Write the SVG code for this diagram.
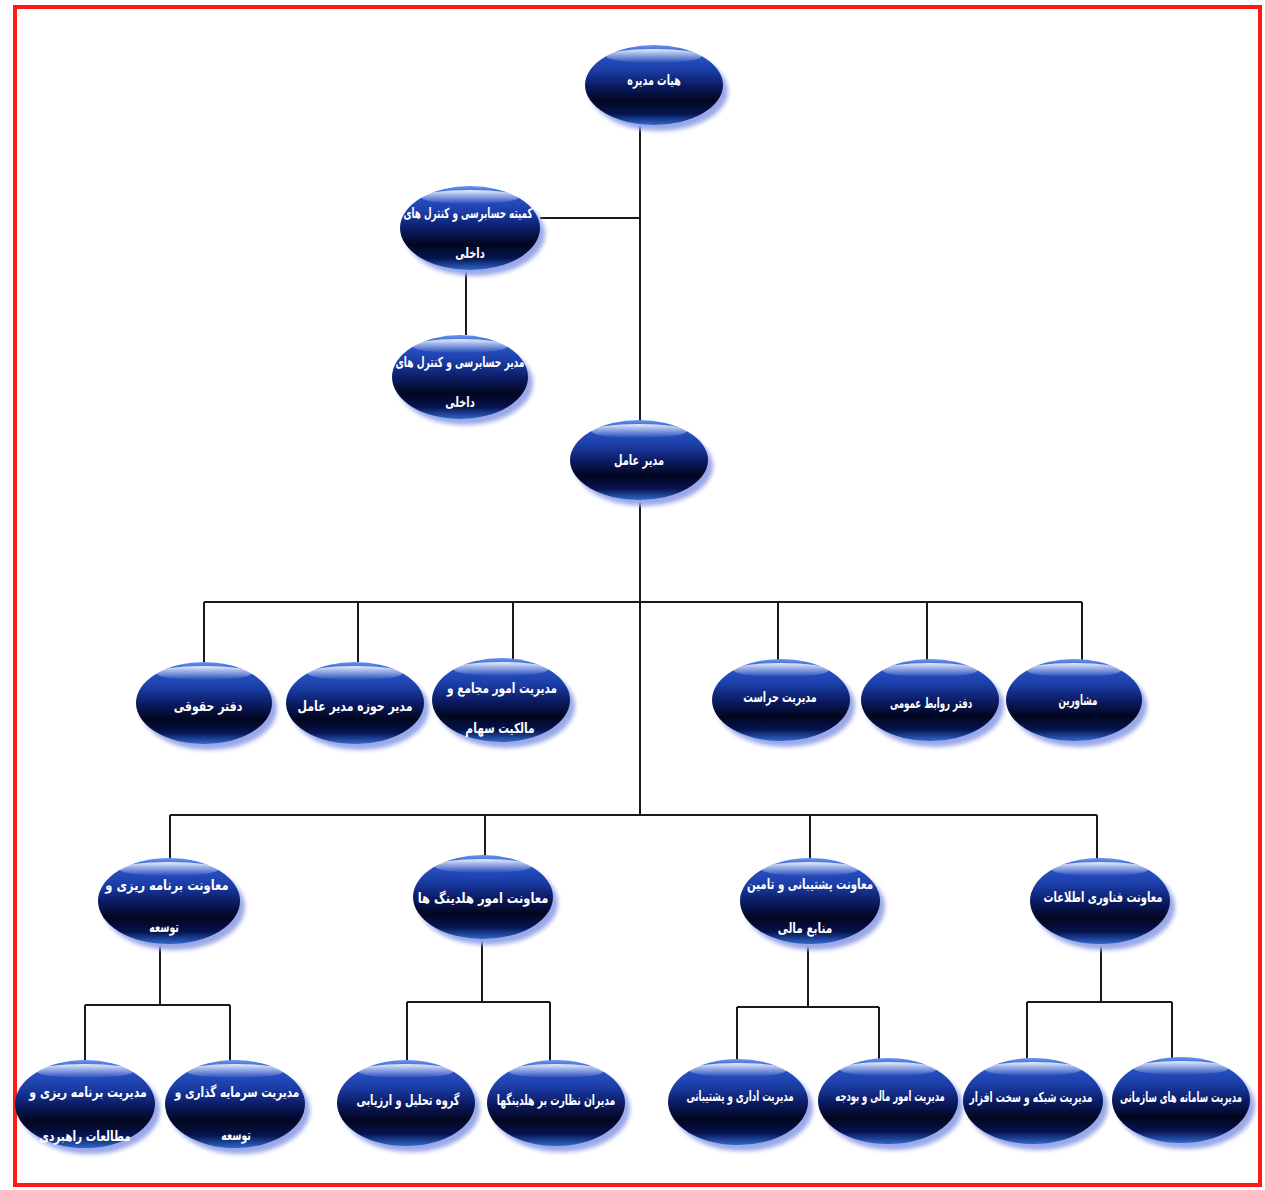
<svg xmlns="http://www.w3.org/2000/svg" width="1265" height="1190" viewBox="0 0 1265 1190">
<style>
.frame{fill:none;stroke:#ff1a1a;stroke-width:4}
.ln{fill:none;stroke:#1a1a1a;stroke-width:2}
.sh{fill:#9aa8e8;filter:url(#blur)}
.bd{fill:url(#body)}
.hl{fill:url(#hi)}
.t{font-family:"DejaVu Sans",sans-serif;font-size:14px;font-weight:bold;fill:#ffffff;text-anchor:middle;dominant-baseline:central}
</style>
<defs>
<linearGradient id="body" x1="0" y1="0" x2="0" y2="1">
<stop offset="0" stop-color="#6b95f0"/>
<stop offset="0.1" stop-color="#2b56cc"/>
<stop offset="0.32" stop-color="#1a3ca4"/>
<stop offset="0.52" stop-color="#0a1a60"/>
<stop offset="0.7" stop-color="#02061e"/>
<stop offset="0.86" stop-color="#061450"/>
<stop offset="1" stop-color="#2e68cc"/>
</linearGradient>
<linearGradient id="hi" x1="0" y1="0" x2="0" y2="1">
<stop offset="0" stop-color="#ffffff" stop-opacity="0.85"/>
<stop offset="1" stop-color="#ffffff" stop-opacity="0"/>
</linearGradient>
<filter id="blur" x="-20%" y="-20%" width="140%" height="140%"><feGaussianBlur stdDeviation="2"/></filter>
</defs>
<rect class="frame" x="15" y="7" width="1245" height="1178"/>
<g id="connectors">
<path class="ln" d="M640 125V815"/>
<path class="ln" d="M540 218H640"/>
<path class="ln" d="M466 270V335"/>
<path class="ln" d="M204 602H1082M204 602V662M358 602V662M513 602V660M778 602V662M927 602V662M1082 602V662"/>
<path class="ln" d="M170 815H1097M170 815V860M485 815V858M810 815V860M1097 815V862"/>
<path class="ln" d="M160 945V1005M85 1005H230M85 1005V1062M230 1005V1062"/>
<path class="ln" d="M482 940V1002M407 1002H550M407 1002V1062M550 1002V1062"/>
<path class="ln" d="M808 945V1007M737 1007H879M737 1007V1060M879 1007V1060"/>
<path class="ln" d="M1101 945V1002M1027 1002H1172M1027 1002V1058M1172 1002V1058"/>
</g>
<g id="n_board"><ellipse class="sh" cx="659" cy="91" rx="69" ry="40"/><ellipse class="bd" cx="654" cy="85" rx="69" ry="40"/><ellipse class="hl" cx="654" cy="56" rx="48" ry="7"/><text class="t" transform="translate(654,80) scale(0.68,1)">هیات مدیره</text></g>
<g id="n_committee"><ellipse class="sh" cx="475" cy="234" rx="70" ry="42"/><ellipse class="bd" cx="470" cy="228" rx="70" ry="42"/><ellipse class="hl" cx="470" cy="197" rx="49" ry="7"/><text class="t" transform="translate(468,213) scale(0.63,1)">کمیته حسابرسی و کنترل های</text><text class="t" transform="translate(470,253) scale(0.7,1)">داخلی</text></g>
<g id="n_auditmgr"><ellipse class="sh" cx="465" cy="383" rx="68" ry="42"/><ellipse class="bd" cx="460" cy="377" rx="68" ry="42"/><ellipse class="hl" cx="460" cy="346" rx="48" ry="7"/><text class="t" transform="translate(460,362) scale(0.65,1)">مدیر حسابرسی و کنترل های</text><text class="t" transform="translate(460,402) scale(0.7,1)">داخلی</text></g>
<g id="n_ceo"><ellipse class="sh" cx="644" cy="466" rx="69" ry="40"/><ellipse class="bd" cx="639" cy="460" rx="69" ry="40"/><ellipse class="hl" cx="639" cy="431" rx="48" ry="7"/><text class="t" transform="translate(639,460) scale(0.7,1)">مدیر عامل</text></g>
<g id="n_legal"><ellipse class="sh" cx="209" cy="709" rx="68" ry="41"/><ellipse class="bd" cx="204" cy="703" rx="68" ry="41"/><ellipse class="hl" cx="204" cy="673" rx="48" ry="7"/><text class="t" transform="translate(208,706) scale(0.78,1)">دفتر حقوقی</text></g>
<g id="n_ceooffice"><ellipse class="sh" cx="360" cy="709" rx="69" ry="41"/><ellipse class="bd" cx="355" cy="703" rx="69" ry="41"/><ellipse class="hl" cx="355" cy="673" rx="48" ry="7"/><text class="t" transform="translate(355,706) scale(0.78,1)">مدیر حوزه مدیر عامل</text></g>
<g id="n_assembly"><ellipse class="sh" cx="506" cy="706" rx="69" ry="42"/><ellipse class="bd" cx="501" cy="700" rx="69" ry="42"/><ellipse class="hl" cx="501" cy="669" rx="48" ry="7"/><text class="t" transform="translate(502,688) scale(0.75,1)">مدیریت امور مجامع و</text><text class="t" transform="translate(500,728) scale(0.76,1)">مالکیت سهام</text></g>
<g id="n_security"><ellipse class="sh" cx="786" cy="706" rx="69" ry="41"/><ellipse class="bd" cx="781" cy="700" rx="69" ry="41"/><ellipse class="hl" cx="781" cy="670" rx="48" ry="7"/><text class="t" transform="translate(780,697) scale(0.68,1)">مدیریت حراست</text></g>
<g id="n_pr"><ellipse class="sh" cx="935" cy="706" rx="69" ry="41"/><ellipse class="bd" cx="930" cy="700" rx="69" ry="41"/><ellipse class="hl" cx="930" cy="670" rx="48" ry="7"/><text class="t" transform="translate(931,703) scale(0.62,1)">دفتر روابط عمومی</text></g>
<g id="n_advisors"><ellipse class="sh" cx="1079" cy="706" rx="68" ry="41"/><ellipse class="bd" cx="1074" cy="700" rx="68" ry="41"/><ellipse class="hl" cx="1074" cy="670" rx="48" ry="7"/><text class="t" transform="translate(1078,700) scale(0.62,1)">مشاورین</text></g>
<g id="n_vp_plan"><ellipse class="sh" cx="174" cy="907" rx="71" ry="43"/><ellipse class="bd" cx="169" cy="901" rx="71" ry="43"/><ellipse class="hl" cx="169" cy="869" rx="50" ry="7"/><text class="t" transform="translate(167,885) scale(0.82,1)">معاونت برنامه ریزی و</text><text class="t" transform="translate(164,927) scale(0.67,1)">توسعه</text></g>
<g id="n_vp_hold"><ellipse class="sh" cx="488" cy="903" rx="70" ry="42"/><ellipse class="bd" cx="483" cy="897" rx="70" ry="42"/><ellipse class="hl" cx="483" cy="866" rx="49" ry="7"/><text class="t" transform="translate(483,898) scale(0.82,1)">معاونت امور هلدینگ ها</text></g>
<g id="n_vp_support"><ellipse class="sh" cx="815" cy="907" rx="70" ry="43"/><ellipse class="bd" cx="810" cy="901" rx="70" ry="43"/><ellipse class="hl" cx="810" cy="869" rx="49" ry="7"/><text class="t" transform="translate(810,884) scale(0.73,1)">معاونت پشتیبانی و تامین</text><text class="t" transform="translate(805,928) scale(0.75,1)">منابع مالی</text></g>
<g id="n_vp_it"><ellipse class="sh" cx="1105" cy="907" rx="70" ry="43"/><ellipse class="bd" cx="1100" cy="901" rx="70" ry="43"/><ellipse class="hl" cx="1100" cy="869" rx="49" ry="7"/><text class="t" transform="translate(1103,897) scale(0.71,1)">معاونت فناوری اطلاعات</text></g>
<g id="n_strategic"><ellipse class="sh" cx="90" cy="1110" rx="70" ry="44"/><ellipse class="bd" cx="85" cy="1104" rx="70" ry="44"/><ellipse class="hl" cx="85" cy="1071" rx="49" ry="7"/><text class="t" transform="translate(88,1092) scale(0.78,1)">مدیریت برنامه ریزی و</text><text class="t" transform="translate(85,1136) scale(0.75,1)">مطالعات راهبردی</text></g>
<g id="n_invest"><ellipse class="sh" cx="240" cy="1110" rx="70" ry="44"/><ellipse class="bd" cx="235" cy="1104" rx="70" ry="44"/><ellipse class="hl" cx="235" cy="1071" rx="49" ry="7"/><text class="t" transform="translate(237,1092) scale(0.75,1)">مدیریت سرمایه گذاری و</text><text class="t" transform="translate(236,1135) scale(0.67,1)">توسعه</text></g>
<g id="n_analysis"><ellipse class="sh" cx="411" cy="1109" rx="69" ry="43"/><ellipse class="bd" cx="406" cy="1103" rx="69" ry="43"/><ellipse class="hl" cx="406" cy="1071" rx="48" ry="7"/><text class="t" transform="translate(408,1100) scale(0.7,1)">گروه تحلیل و ارزیابی</text></g>
<g id="n_holdsup"><ellipse class="sh" cx="561" cy="1109" rx="69" ry="43"/><ellipse class="bd" cx="556" cy="1103" rx="69" ry="43"/><ellipse class="hl" cx="556" cy="1071" rx="48" ry="7"/><text class="t" transform="translate(556,1100) scale(0.66,1)">مدیران نظارت بر هلدینگها</text></g>
<g id="n_admin"><ellipse class="sh" cx="743" cy="1108" rx="70" ry="43"/><ellipse class="bd" cx="738" cy="1102" rx="70" ry="43"/><ellipse class="hl" cx="738" cy="1070" rx="49" ry="7"/><text class="t" transform="translate(740,1096) scale(0.62,1)">مدیریت اداری و پشتیبانی</text></g>
<g id="n_finance"><ellipse class="sh" cx="893" cy="1107" rx="70" ry="43"/><ellipse class="bd" cx="888" cy="1101" rx="70" ry="43"/><ellipse class="hl" cx="888" cy="1069" rx="49" ry="7"/><text class="t" transform="translate(890,1096) scale(0.6,1)">مدیریت امور مالی و بودجه</text></g>
<g id="n_network"><ellipse class="sh" cx="1038" cy="1107" rx="70" ry="43"/><ellipse class="bd" cx="1033" cy="1101" rx="70" ry="43"/><ellipse class="hl" cx="1033" cy="1069" rx="49" ry="7"/><text class="t" transform="translate(1031,1097) scale(0.65,1)">مدیریت شبکه و سخت افزار</text></g>
<g id="n_systems"><ellipse class="sh" cx="1186" cy="1106" rx="69" ry="43"/><ellipse class="bd" cx="1181" cy="1100" rx="69" ry="43"/><ellipse class="hl" cx="1181" cy="1068" rx="48" ry="7"/><text class="t" transform="translate(1181,1097) scale(0.61,1)">مدیریت سامانه های سازمانی</text></g>
</svg>
